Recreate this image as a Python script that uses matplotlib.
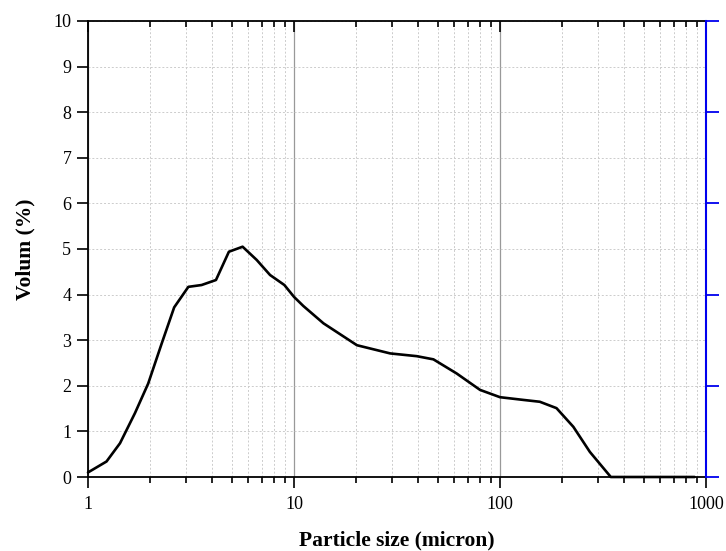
import matplotlib
matplotlib.use("Agg")
import matplotlib.pyplot as plt
from matplotlib.ticker import LogLocator, NullFormatter, FixedLocator, FuncFormatter

plt.rcParams['font.family'] = ['Liberation Serif', 'DejaVu Serif']

# Data
size_micron = [1.0, 1.23, 1.43, 1.69, 1.96, 2.28, 2.62, 3.07, 3.56, 4.18, 4.83, 5.63,
               6.59, 7.65, 8.98, 10.0, 11.1, 13.9, 20.2, 29.3, 39.4, 47.5, 61.6, 80.0,
               100.0, 130.0, 156.0, 188.0, 227.0, 273.0, 345.0, 400.0, 600.0, 880.0]
volume_pct = [0.1, 0.34, 0.74, 1.40, 2.05, 2.93, 3.72, 4.17, 4.21, 4.32, 4.94, 5.05,
              4.76, 4.43, 4.21, 3.95, 3.75, 3.37, 2.89, 2.71, 2.65, 2.58, 2.27, 1.91,
              1.75, 1.69, 1.65, 1.51, 1.10, 0.55, 0.0, 0.0, 0.0, 0.0]

x_ticks = [1, 10, 100, 1000]
y_ticks = list(range(0, 11))
right_ticks = [0, 2, 4, 6, 8, 10]

fig = plt.figure(figsize=(7.26, 5.51), dpi=100)
ax = fig.add_axes([0.1212, 0.1343, 0.9725 - 0.1212, 0.9619 - 0.1343])

ax.set_xscale('log')
ax.set_xlim(1, 1000)
ax.set_ylim(0, 10)

# grid
ax.grid(which='major', axis='x', color='#999999', linestyle='-', linewidth=0.9)
ax.grid(which='minor', axis='x', color='#cccccc', linestyle=(0, (2, 2)), linewidth=0.7)
ax.grid(which='major', axis='y', color='#cccccc', linestyle=(0, (2, 2)), linewidth=0.7)
ax.set_axisbelow(True)

ax.plot(size_micron, volume_pct, color='black', linewidth=1.9, solid_joinstyle='round',
        solid_capstyle='round', zorder=3, clip_on=False)

ax.xaxis.set_major_locator(FixedLocator(x_ticks))
ax.xaxis.set_major_formatter(FuncFormatter(lambda v, p: f"{int(round(v))}"))
ax.xaxis.set_minor_locator(LogLocator(base=10, subs=range(2, 10)))
ax.xaxis.set_minor_formatter(NullFormatter())
ax.set_yticks(y_ticks)

ax.tick_params(axis='x', which='major', direction='out', length=8, width=1.2, labelsize=13, pad=6,
               top=True, bottom=True)
ax.tick_params(axis='x', which='minor', direction='out', length=4, width=1.2,
               top=True, bottom=True)
ax.tick_params(axis='y', which='major', direction='out', length=8, width=1.2, labelsize=13, pad=4,
               left=True, right=False)

# top ticks inward
for t in ax.xaxis.get_major_ticks():
    t.tick2line.set_marker(3)  # TICKDOWN
for t in ax.xaxis.get_minor_ticks():
    t.tick2line.set_marker(3)
ax.tick_params(axis='x', which='major', labeltop=False)

for s in ['left', 'bottom', 'top']:
    ax.spines[s].set_linewidth(1.3)
    ax.spines[s].set_color('black')
ax.spines['right'].set_visible(False)

# blue right axis
ax2 = ax.twinx()
ax2.set_ylim(0, 10)
ax2.set_yticks(right_ticks)
ax2.tick_params(axis='y', direction='out', length=9, width=1.3, colors='#0000ee', labelright=False)
ax2.spines['right'].set_color('#0000ee')
ax2.spines['right'].set_linewidth(1.5)
for s in ['left', 'bottom', 'top']:
    ax2.spines[s].set_visible(False)

ax.set_xlabel('Particle size (micron)', fontsize=15.5, fontweight='bold', labelpad=12)
ax.set_ylabel('Volum (%)', fontsize=15.5, fontweight='bold', labelpad=13)

fig.savefig('out.png', dpi=100)
